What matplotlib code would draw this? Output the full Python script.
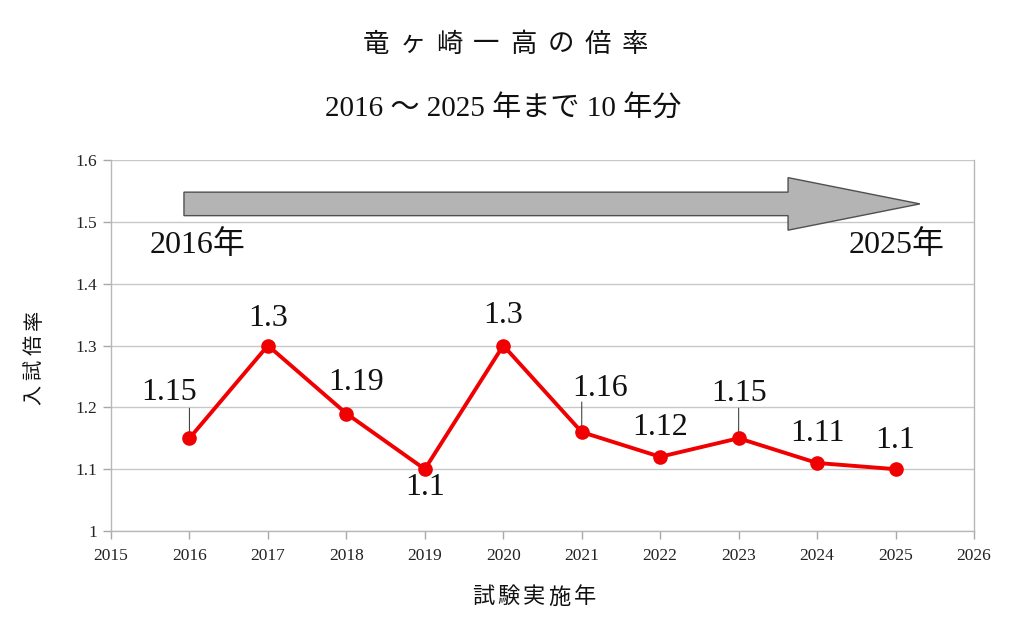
import matplotlib
matplotlib.use("Agg")
import matplotlib.pyplot as plt
from matplotlib.patches import FancyArrow

plt.rcParams['font.family'] = ['Liberation Serif', 'Noto Sans CJK JP', 'DejaVu Sans']

# data
years = [2016, 2017, 2018, 2019, 2020, 2021, 2022, 2023, 2024, 2025]
ratios = [1.15, 1.3, 1.19, 1.1, 1.3, 1.16, 1.12, 1.15, 1.11, 1.1]
labels = ["1.15", "1.3", "1.19", "1.1", "1.3", "1.16", "1.12", "1.15", "1.11", "1.1"]
# label offsets in pixels (dx, dy) and whether a leader line is drawn
label_off = [(-20, 46), (0, 27), (10, 31), (0, -18), (0, 30),
             (18, 44), (0, 29), (0, 45), (0, 29), (0, 29)]
leader = [True, False, False, False, False, True, False, True, False, False]

x_ticks = list(range(2015, 2027))
y_ticks = [1.0, 1.1, 1.2, 1.3, 1.4, 1.5, 1.6]
y_tick_labels = ["1", "1.1", "1.2", "1.3", "1.4", "1.5", "1.6"]

title = "竜ヶ崎一高の倍率"
subtitle = "2016 ～ 2025 年まで 10 年分"
xlabel = "試験実施年"
ylabel = "入試倍率"

W, H = 1024, 632
fig = plt.figure(figsize=(W / 100, H / 100), dpi=100)
ax = fig.add_axes([111 / W, 1 - 531 / H, (974 - 111) / W, (531 - 160) / H])

ax.set_xlim(2015, 2026)
ax.set_ylim(1.0, 1.6)
ax.set_xticks(x_ticks)
ax.set_xticklabels([str(t) for t in x_ticks], fontsize=12.5)
ax.set_yticks(y_ticks)
ax.set_yticklabels(y_tick_labels, fontsize=12.5)
ax.tick_params(direction='out', length=6, color='#a8a8a8', width=1, pad=4, labelcolor='#222222')
ax.tick_params(axis='x', pad=6)
ax.grid(axis='y', color='#c8c8c8', lw=1)
ax.set_axisbelow(True)
for s in ax.spines.values():
    s.set_color('#b8b8b8')
    s.set_linewidth(1)
ax.spines['top'].set_visible(False)

# period arrow 2016 -> 2025
arrow_x0, arrow_x1, arrow_y = 2015.93, 2025.31, 1.529
arr = FancyArrow(arrow_x0, arrow_y, arrow_x1 - arrow_x0, 0, width=0.038,
                 head_width=0.085, head_length=1.68, length_includes_head=True,
                 facecolor='#b4b4b4', edgecolor='#505050', lw=1, zorder=2)
ax.add_patch(arr)
ax.text(2016.1, 1.462, "2016年", fontsize=23, ha='center', va='center', color='#111111')
ax.text(2025.02, 1.462, "2025年", fontsize=23, ha='center', va='center', color='#111111')

ax.plot(years, ratios, color='#f00000', lw=2.8, marker='o', markersize=9.5, zorder=4)

for x, y, lab, (dx, dy), ld in zip(years, ratios, labels, label_off, leader):
    ax.annotate(lab, (x, y), xytext=(dx, dy), textcoords='offset pixels',
                ha='center', va='center', fontsize=23, color='#111111', zorder=5)
    if ld:
        ax.annotate('', (x, y), xytext=(0, 30), textcoords='offset pixels',
                    arrowprops=dict(arrowstyle='-', color='#444444', lw=0.8,
                                    shrinkA=0, shrinkB=4), zorder=3)


def spaced_text(s, xc, yc, pitch, size, vertical=False):
    # place characters one by one with letter spacing (pixel coords)
    n = len(s)
    for i, ch in enumerate(s):
        off = (i - (n - 1) / 2) * pitch
        if vertical:
            fig.text(xc / W, 1 - (yc - off) / H, ch, fontsize=size, rotation=90,
                     ha='center', va='center', color='#111111')
        else:
            fig.text((xc + off) / W, 1 - yc / H, ch, fontsize=size,
                     ha='center', va='center', color='#111111')


spaced_text(title, 505, 45, 37, 19)
fig.text(503 / W, 1 - 108 / H, subtitle, fontsize=21, ha='center', va='center', color='#111111')
spaced_text(xlabel, 534, 598, 25.5, 16)
spaced_text(ylabel, 35, 357, 25, 14.5, vertical=True)

fig.savefig("out.png", dpi=100)
